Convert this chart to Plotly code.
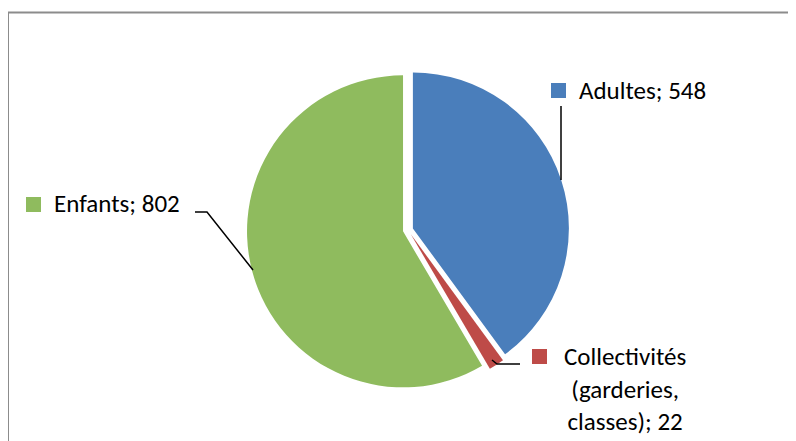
import textwrap
import plotly.graph_objects as go

# ---- data ----
categories = ["Adultes", "Collectivités (garderies, classes)", "Enfants"]
values = [548, 22, 802]
colors = ["#4A7EBB", "#BE4B48", "#8FBB5E"]

# page body has an 8px margin: the figure sits at (8, 8) in the window
OFF = 8
W, H = 796 - OFF, 441 - OFF
FONT = "Calibri, Carlito, Lato, sans-serif"
FS = 25


def px(x):
    """window pixel x -> paper fraction"""
    return (x - OFF) / W


def py(y):
    """window pixel y -> paper fraction"""
    return 1 - (y - OFF) / H


PIE_CX, PIE_CY, PIE_R, PULL = 408, 230, 156, 0.033
half = PIE_R * (1 + PULL)

fig = go.Figure(
    go.Pie(
        labels=categories,
        values=values,
        marker=dict(colors=colors, line=dict(width=0)),
        sort=False,
        direction="clockwise",
        rotation=0,
        pull=[PULL] * len(values),
        textinfo="none",
        hoverinfo="label+value",
        domain=dict(x=[px(PIE_CX - half), px(PIE_CX + half)],
                    y=[py(PIE_CY + half), py(PIE_CY - half)]),
        showlegend=False,
    )
)

shapes = []
annotations = []

# frame (top and left edges visible)
shapes.append(dict(type="line", xref="paper", yref="paper", x0=px(8), x1=px(800), y0=py(12.5), y1=py(12.5),
                   line=dict(color="#8C8C8C", width=2)))
shapes.append(dict(type="line", xref="paper", yref="paper", x0=px(8), x1=px(8), y0=py(12.5), y1=py(445),
                   line=dict(color="#8C8C8C", width=2)))

label_layout = [
    dict(key=(551, 83), tx=578, ty=91, xanchor="left", align="left",
         leader=[(561, 106), (561, 180)]),
    dict(key=(532, 349), tx=625, ty=340, xanchor="center", align="center", yanchor="top",
         leader=[(520, 364), (497, 364), (492, 360)]),
    dict(key=(26, 197), tx=53, ty=203, xanchor="left", align="left",
         leader=[(195, 212), (207, 212), (253, 270)]),
]

for cat, val, col, lay in zip(categories, values, colors, label_layout):
    kx, ky = lay["key"]
    shapes.append(dict(type="rect", xref="paper", yref="paper",
                       x0=px(kx), x1=px(kx + 15), y0=py(ky + 15), y1=py(ky),
                       fillcolor=col, line=dict(width=0)))
    text = "<br>".join(textwrap.wrap(f"{cat}; {val}", width=14))
    annotations.append(dict(xref="paper", yref="paper", x=px(lay["tx"]), y=py(lay["ty"]),
                            text=text, showarrow=False, xanchor=lay["xanchor"],
                            yanchor=lay.get("yanchor", "middle"), align=lay["align"],
                            borderpad=0,
                            font=dict(family=FONT, size=FS, color="#000000")))
    pts = lay["leader"]
    path = "M " + " L ".join(f"{px(x)},{py(y)}" for x, y in pts)
    shapes.append(dict(type="path", xref="paper", yref="paper", path=path,
                       line=dict(color="#000000", width=1.5)))

fig.update_layout(
    width=W,
    height=H,
    margin=dict(l=0, r=0, t=0, b=0),
    paper_bgcolor="white",
    plot_bgcolor="white",
    shapes=shapes,
    annotations=annotations,
    font=dict(family=FONT),
)

fig.write_html("out.html")
